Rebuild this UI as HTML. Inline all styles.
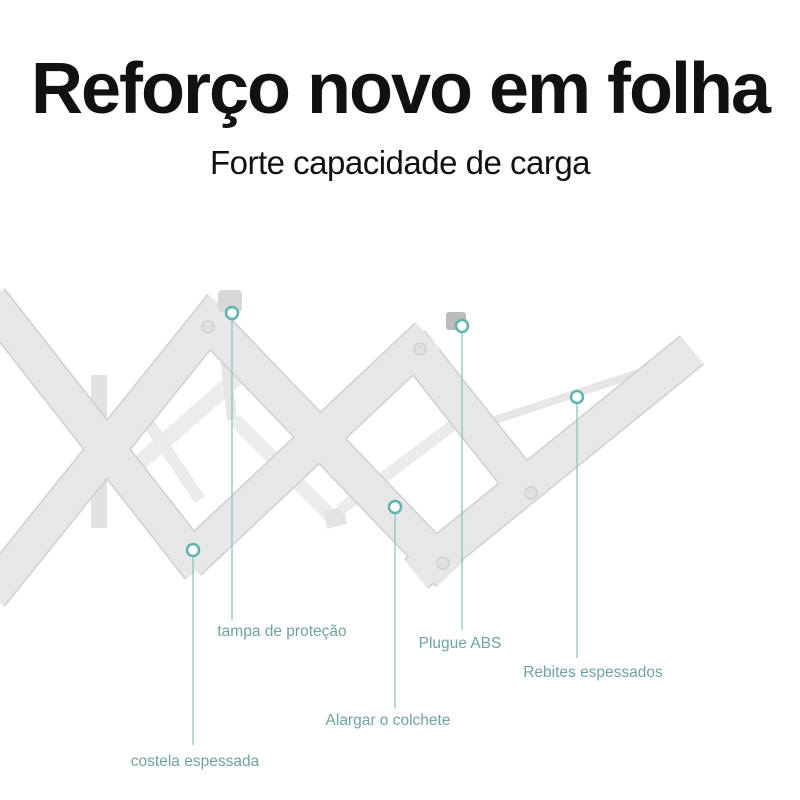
<!DOCTYPE html>
<html><head><meta charset="utf-8"><style>
html,body{margin:0;padding:0;background:#fff;}
body{width:800px;height:800px;position:relative;overflow:hidden;font-family:"Liberation Sans",sans-serif;}
.t{position:absolute;left:0;width:800px;text-align:center;color:#111;}
.l{position:absolute;font-size:15.5px;color:#6fa3a0;white-space:nowrap;transform:translateX(-50%);}
</style></head><body>
<div class="t" style="top:48px;font-size:72px;font-weight:bold;letter-spacing:-2px;">Reforço novo em folha</div>
<div class="t" style="top:144px;font-size:33px;letter-spacing:-0.5px;">Forte capacidade de carga</div>
<svg width="800" height="800" style="position:absolute;left:0;top:0" xmlns="http://www.w3.org/2000/svg">
<g stroke-linecap="butt" fill="none">
 <line x1="99" y1="375" x2="99" y2="528" stroke="#e2e2e2" stroke-width="16"/>
 <line x1="120" y1="480" x2="240" y2="375" stroke="#ececec" stroke-width="16"/>
 <line x1="140" y1="410" x2="200" y2="500" stroke="#ebebeb" stroke-width="12"/>
 <line x1="225" y1="355" x2="232" y2="420" stroke="#e6e6e6" stroke-width="10"/>
 <line x1="235" y1="420" x2="335" y2="520" stroke="#ececec" stroke-width="14"/>
 <line x1="325" y1="520" x2="345" y2="515" stroke="#e4e4e4" stroke-width="18"/>
 <line x1="340" y1="510" x2="460" y2="420" stroke="#ebebeb" stroke-width="12"/>
 <line x1="495" y1="420" x2="672" y2="362" stroke="#e6e6e6" stroke-width="8"/>
 <g stroke="#cfcfcf" stroke-width="38">
  <line x1="-10" y1="300" x2="200" y2="568"/>
  <line x1="-10" y1="595" x2="222" y2="306"/>
  <line x1="205" y1="318" x2="450" y2="574"/>
  <line x1="188" y1="562" x2="428" y2="336"/>
  <line x1="410" y1="342" x2="535" y2="500"/>
  <line x1="416" y1="574" x2="692" y2="350"/>
 </g>
 <g stroke="#e7e7e7" stroke-width="35">
  <line x1="-10" y1="300" x2="200" y2="568"/>
  <line x1="-10" y1="595" x2="222" y2="306"/>
  <line x1="205" y1="318" x2="450" y2="574"/>
  <line x1="188" y1="562" x2="428" y2="336"/>
  <line x1="410" y1="342" x2="535" y2="500"/>
  <line x1="416" y1="574" x2="692" y2="350"/>
 </g>
 <rect x="218" y="290" width="24" height="22" rx="4" fill="#d8d8d8"/>
 <rect x="446" y="312" width="20" height="18" rx="3" fill="#bbb"/>
</g>
<g fill="#e0e0e0" stroke="#c8c8c8">
 <circle cx="208" cy="327" r="6"/><circle cx="420" cy="349" r="6"/>
 <circle cx="531" cy="493" r="6"/><circle cx="443" cy="563" r="6"/>
</g>
<g stroke="#8cc3bf" stroke-width="1.3">
 <line x1="232" y1="313" x2="232" y2="620"/>
 <line x1="462" y1="326" x2="462" y2="630"/>
 <line x1="577" y1="397" x2="577" y2="658"/>
 <line x1="395" y1="507" x2="395" y2="708"/>
 <line x1="193" y1="550" x2="193" y2="745"/>
</g>
<g fill="#fff" stroke="#5fb3ad" stroke-width="2.5">
 <circle cx="232" cy="313" r="6"/><circle cx="462" cy="326" r="6"/>
 <circle cx="577" cy="397" r="6"/><circle cx="395" cy="507" r="6"/>
 <circle cx="193" cy="550" r="6"/>
</g>
</svg>
<div class="l" style="left:282px;top:623px">tampa de proteção</div>
<div class="l" style="left:460px;top:635px">Plugue ABS</div>
<div class="l" style="left:593px;top:664px">Rebites espessados</div>
<div class="l" style="left:388px;top:712px">Alargar o colchete</div>
<div class="l" style="left:195px;top:753px">costela espessada</div>
</body></html>
